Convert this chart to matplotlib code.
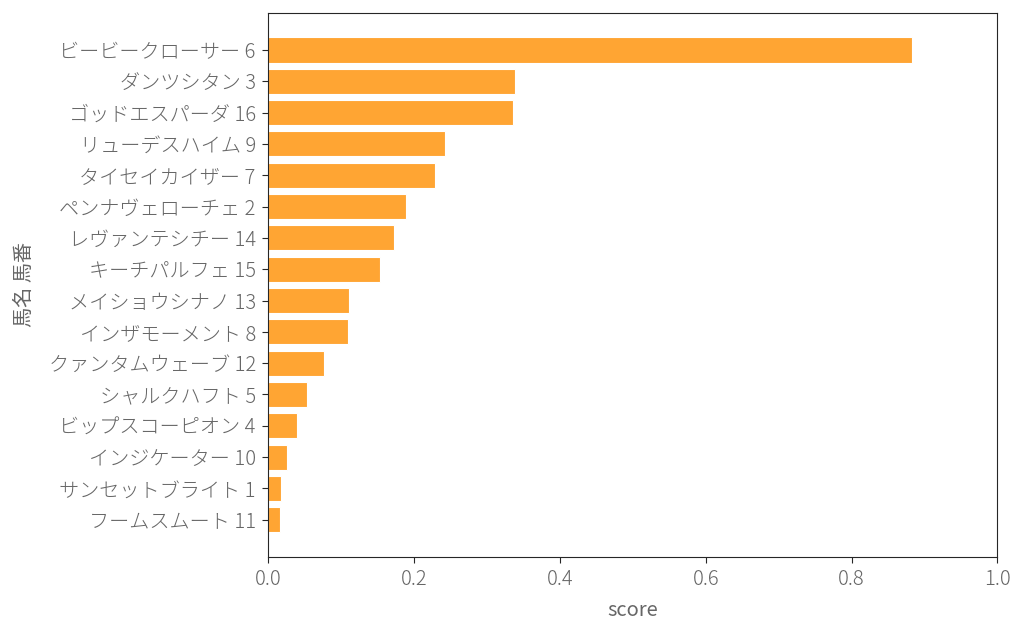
import matplotlib
matplotlib.use("Agg")
import matplotlib.pyplot as plt
import seaborn as sns

# horse names + numbers, top to bottom
names = ['ビービークローサー 6', 'ダンツシタン 3', 'ゴッドエスパーダ 16', 'リューデスハイム 9',
         'タイセイカイザー 7', 'ペンナヴェローチェ 2', 'レヴァンテシチー 14', 'キーチパルフェ 15',
         'メイショウシナノ 13', 'インザモーメント 8', 'クァンタムウェーブ 12', 'シャルクハフト 5',
         'ビップスコーピオン 4', 'インジケーター 10', 'サンセットブライト 1', 'フームスムート 11']
scores = [0.883, 0.339, 0.335, 0.242, 0.229, 0.189, 0.172, 0.153,
          0.111, 0.110, 0.077, 0.053, 0.039, 0.026, 0.017, 0.0155]

sns.set_style("ticks")
plt.rcParams['font.family'] = ['Noto Sans CJK JP', 'DejaVu Sans']
plt.rcParams['font.weight'] = 'light'
plt.rcParams['text.color'] = '#666666'
plt.rcParams['axes.labelcolor'] = '#666666'
plt.rcParams['xtick.color'] = '#262626'
plt.rcParams['ytick.color'] = '#262626'

fig = plt.figure(figsize=(10.24, 6.38), dpi=100)
ax = fig.add_axes([0.262, 0.127, 0.712, 0.853])

pos = list(range(len(names)))
ax.barh(pos, scores, height=0.8, color='#ffa533', edgecolor='white', linewidth=0.8)
ax.set_yticks(pos)
ax.set_yticklabels(names)
ax.invert_yaxis()
ax.set_xlim(0, 1.0)
ax.set_xlabel('score', fontsize=14.5, labelpad=7)
ax.set_ylabel('馬名 馬番', fontsize=14.5, labelpad=10)
ax.tick_params(labelsize=14.5, labelcolor='#666666', length=4)
ax.tick_params(axis='y', pad=5)
ax.tick_params(axis='x', pad=5)
for s in ax.spines.values():
    s.set_color('#262626')

fig.savefig('out.png', dpi=100)
